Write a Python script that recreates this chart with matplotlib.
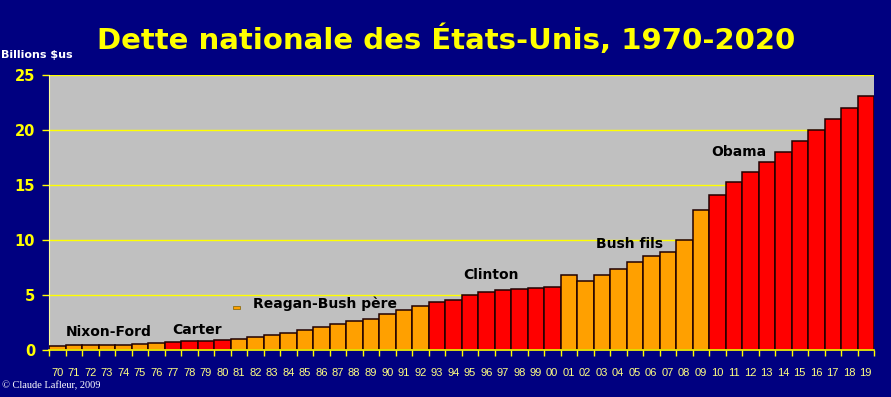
import matplotlib
matplotlib.use("Agg")
import matplotlib.pyplot as plt
from matplotlib.patches import Rectangle

# ---- data ----
years = ["70", "71", "72", "73", "74", "75", "76", "77", "78", "79",
         "80", "81", "82", "83", "84", "85", "86", "87", "88", "89",
         "90", "91", "92", "93", "94", "95", "96", "97", "98", "99",
         "00", "01", "02", "03", "04", "05", "06", "07", "08", "09",
         "10", "11", "12", "13", "14", "15", "16", "17", "18", "19"]
debt = [0.37, 0.41, 0.44, 0.47, 0.48, 0.54, 0.63, 0.71, 0.78, 0.83,
        0.91, 1.00, 1.14, 1.37, 1.56, 1.82, 2.12, 2.35, 2.60, 2.86,
        3.23, 3.60, 4.00, 4.40, 4.55, 5.00, 5.25, 5.43, 5.52, 5.60,
        5.70, 6.80, 6.25, 6.80, 7.35, 8.00, 8.55, 8.90, 10.00, 12.75,
        14.10, 15.30, 16.20, 17.10, 18.00, 19.00, 20.00, 21.00, 22.00, 23.10]
# administrations (label, first year, last year, party)
admins = [("Nixon-Ford", "70", "76", "R"),
          ("Carter", "77", "80", "D"),
          ("Reagan-Bush père", "81", "92", "R"),
          ("Clinton", "93", "00", "D"),
          ("Bush fils", "01", "09", "R"),
          ("Obama", "10", "19", "D")]
y_ticks = [0, 5, 10, 15, 20, 25]
title = "Dette nationale des États-Unis, 1970-2020"

# ---- style ----
NAVY = "#000080"
GRAY = "#C0C0C0"
YELLOW = "#FFFF00"
party_colors = {"R": "#FFA000", "D": "#FF0000"}
label_pos = {"Nixon-Ford": (3.1, 1.6), "Carter": (8.5, 1.85),
             "Reagan-Bush père": (16.2, 4.2), "Clinton": (26.3, 6.8),
             "Bush fils": (34.7, 9.6), "Obama": (41.3, 18.0)}

colors = []
for i, yr in enumerate(years):
    for name, a, b, p in admins:
        ia, ib = years.index(a), years.index(b)
        if ia <= i <= ib:
            colors.append(party_colors[p])
            break

W, H = 891, 397
fig = plt.figure(figsize=(W / 100, H / 100), dpi=100, facecolor=NAVY)
ax = fig.add_axes([49 / W, 1 - 350 / H, 825 / W, 275 / H])
ax.set_facecolor(GRAY)

x = list(range(len(years)))
ax.bar(x, debt, width=1.0, color=colors, edgecolor="#200000", linewidth=1.1, zorder=3)

ax.set_xlim(-0.5, len(years) - 0.5)
ax.set_ylim(0, 25)
ax.set_yticks(y_ticks)
ax.set_yticklabels([str(t) for t in y_ticks], color=YELLOW, fontsize=10.5,
                   fontweight="bold", family="DejaVu Sans")
for t in y_ticks[1:]:
    ax.axhline(t, color=YELLOW, linewidth=1.0, zorder=1)
ax.tick_params(axis="y", colors=YELLOW, length=5, width=1, pad=5)

ax.set_xticks([i - 0.5 for i in range(len(years) + 1)], minor=False)
ax.set_xticklabels([""] * (len(years) + 1))
ax.set_xticks(x, minor=True)
ax.set_xticklabels(years, minor=True, color="#FFFF80", fontsize=8,
                   family="Liberation Sans")
ax.tick_params(axis="x", which="major", colors=YELLOW, length=4, width=1, direction="out")
ax.tick_params(axis="x", which="minor", length=0, pad=13)

for s in ["top", "right"]:
    ax.spines[s].set_visible(False)
ax.spines["left"].set_color("#FFFF99")
ax.spines["bottom"].set_color(YELLOW)
ax.spines["bottom"].set_linewidth(1.2)
ax.spines["bottom"].set_zorder(4)

for name, _, _, _ in admins:
    lx, ly = label_pos[name]
    ax.text(lx, ly, name, ha="center", va="center", fontsize=10,
            fontweight="bold", color="black", family="DejaVu Sans", zorder=5)

# small orange marker beside the Reagan-Bush label
ax.add_patch(Rectangle((10.65, 3.75), 0.42, 0.22, facecolor=party_colors["R"],
                       edgecolor="#806000", linewidth=0.5, zorder=5))

fig.text(446 / W, 1 - 40 / H, title, ha="center", va="center", color=YELLOW,
         fontsize=21, fontweight="bold", family="DejaVu Sans")
fig.text(1 / W, 1 - 55 / H, "Billions $us", ha="left", va="center", color="white",
         fontsize=8, fontweight="bold", family="DejaVu Sans")
fig.text(2 / W, 1 - 386 / H, "© Claude Lafleur, 2009", ha="left", va="center",
         color="white", fontsize=7.5, family="Liberation Serif")

fig.savefig("out.png", dpi=100, facecolor=NAVY)
